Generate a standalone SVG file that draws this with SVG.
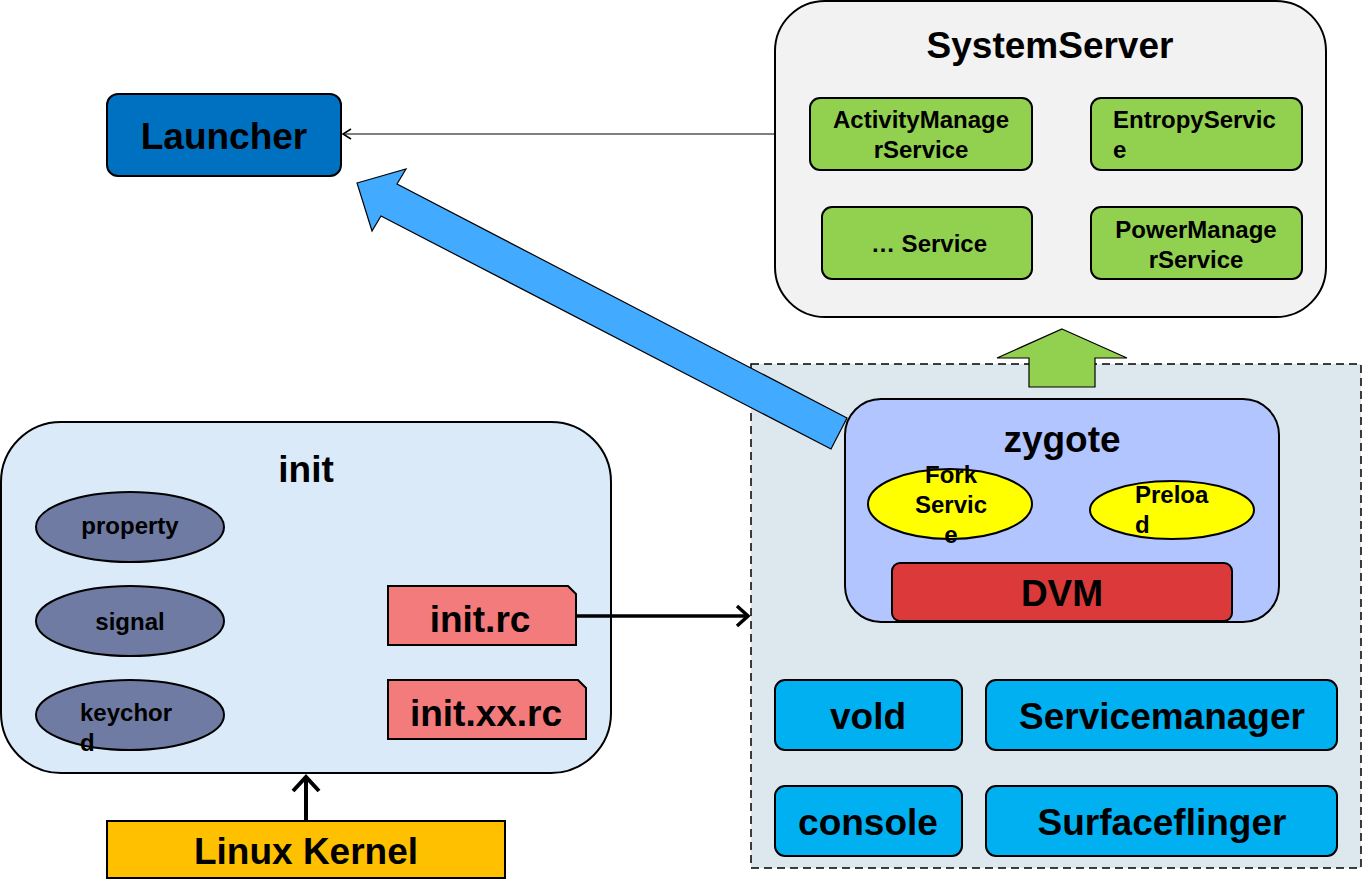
<svg xmlns="http://www.w3.org/2000/svg" width="1362" height="896" viewBox="0 0 1362 896">
<defs>
<style>
text{font-family:"Liberation Sans",Arial,sans-serif;font-weight:bold;fill:#000}
.big{font-size:37px;text-anchor:middle}
.sm{font-size:24px;text-anchor:middle}
.sml{font-size:24px;text-anchor:start}
.box{stroke:#000;stroke-width:2}
</style>
<marker id="open" markerWidth="12" markerHeight="12" refX="10" refY="6" orient="auto" markerUnits="userSpaceOnUse">
<path d="M2,1 L10,6 L2,11" fill="none" stroke="#000" stroke-width="1.5"/>
</marker>
<marker id="chev" markerWidth="18" markerHeight="24" refX="14" refY="12" orient="auto" markerUnits="userSpaceOnUse">
<path d="M3,2 L14,12 L3,22" fill="none" stroke="#000" stroke-width="3.5"/>
</marker>
<marker id="chev2" markerWidth="24" markerHeight="32" refX="18" refY="16" orient="auto" markerUnits="userSpaceOnUse">
<path d="M4,3 L18,16 L4,29" fill="none" stroke="#000" stroke-width="4"/>
</marker>
</defs>
<rect width="1362" height="896" fill="#fff"/>

<g id="zygote-container">
<rect x="751" y="364" width="610" height="504" fill="#DDE8EE" stroke="#000" stroke-width="1.5" stroke-dasharray="8,5"/>
</g>

<g id="launcher">
<rect class="box" x="107" y="94" width="234" height="82" rx="11" fill="#0070C0"/>
<text class="big" x="224" y="149">Launcher</text>
</g>

<g id="systemserver">
<rect class="box" x="775" y="1" width="551" height="316" rx="50" fill="#F2F2F2"/>
<text class="big" x="1050" y="58">SystemServer</text>
<g id="ams"><rect class="box" x="810" y="98" width="222" height="72" rx="10" fill="#92D050"/>
<text class="sm" x="921" y="128">ActivityManage</text><text class="sm" x="921" y="158">rService</text></g>
<g id="entropy"><rect class="box" x="1091" y="98" width="211" height="72" rx="10" fill="#92D050"/>
<text class="sml" x="1113" y="128">EntropyServic</text><text class="sml" x="1113" y="158">e</text></g>
<g id="etc"><rect class="box" x="822" y="207" width="210" height="72" rx="10" fill="#92D050"/>
<text class="sm" x="929" y="252">… Service</text></g>
<g id="pms"><rect class="box" x="1091" y="207" width="211" height="72" rx="10" fill="#92D050"/>
<text class="sm" x="1196" y="238">PowerManage</text><text class="sm" x="1196" y="268">rService</text></g>
</g>

<g id="zygote">
<rect class="box" x="845" y="399" width="434" height="223" rx="36" fill="#B2C5FE"/>
<text class="big" x="1062" y="452">zygote</text>
<g id="fork"><ellipse class="box" cx="950" cy="504" rx="82" ry="35" fill="#FFFF00"/>
<text class="sm" x="951" y="483">Fork</text><text class="sm" x="951" y="513">Servic</text><text class="sm" x="951" y="543">e</text></g>
<g id="preload"><ellipse class="box" cx="1172" cy="510" rx="82" ry="29" fill="#FFFF00"/>
<text class="sml" x="1135" y="503">Preloa</text><text class="sml" x="1135" y="533">d</text></g>
<g id="dvm"><rect class="box" x="892" y="563" width="340" height="58" rx="8" fill="#DC3A3A"/>
<text class="big" x="1062" y="606">DVM</text></g>
</g>

<g id="vold"><rect class="box" x="775" y="680" width="187" height="70" rx="10" fill="#00B0F0"/><text class="big" x="868" y="729">vold</text></g>
<g id="servicemanager"><rect class="box" x="986" y="680" width="351" height="70" rx="10" fill="#00B0F0"/><text class="big" x="1162" y="729">Servicemanager</text></g>
<g id="console"><rect class="box" x="775" y="786" width="187" height="70" rx="10" fill="#00B0F0"/><text class="big" x="868" y="835">console</text></g>
<g id="surfaceflinger"><rect class="box" x="986" y="786" width="351" height="70" rx="10" fill="#00B0F0"/><text class="big" x="1162" y="835">Surfaceflinger</text></g>

<g id="init">
<rect class="box" x="1" y="422" width="610" height="351" rx="60" fill="#DAEAF8"/>
<text class="big" x="306" y="482">init</text>
<g id="property"><ellipse class="box" cx="130" cy="527" rx="94" ry="35" fill="#6F7BA2"/><text class="sm" x="130" y="534">property</text></g>
<g id="signal"><ellipse class="box" cx="130" cy="621" rx="94" ry="35" fill="#6F7BA2"/><text class="sm" x="130" y="630">signal</text></g>
<g id="keychord"><ellipse class="box" cx="130" cy="715" rx="94" ry="35" fill="#6F7BA2"/><text class="sml" x="80" y="721">keychor</text><text class="sml" x="80" y="751">d</text></g>
<g id="initrc"><path class="box" d="M388,586 H568 L576,594 V645 H388 Z" fill="#F37B7B"/><text class="big" x="480" y="632">init.rc</text></g>
<g id="initxxrc"><path class="box" d="M388,680 H578 L586,688 V739 H388 Z" fill="#F37B7B"/><text class="big" x="486" y="726">init.xx.rc</text></g>
</g>

<g id="kernel">
<rect class="box" x="107" y="821" width="398" height="57" fill="#FFC000"/>
<text class="big" x="306" y="864">Linux Kernel</text>
</g>

<g id="connectors">
<line x1="775" y1="134" x2="343" y2="134" stroke="#000" stroke-width="1.2" marker-end="url(#open)"/>
<line x1="577" y1="616" x2="748" y2="616" stroke="#000" stroke-width="3.5" marker-end="url(#chev)"/>
<line x1="306" y1="821" x2="306" y2="777" stroke="#000" stroke-width="4" marker-end="url(#chev2)"/>
<polygon points="357,183 406,169 397,184 847,418 831,449 381,216 372,231" fill="#42AAFF" stroke="#000" stroke-width="1.2" stroke-linejoin="miter"/>
<polygon points="1062,329 1127,358 1095,358 1095,387 1029,387 1029,358 997,358" fill="#92D050" stroke="#000" stroke-width="1.2"/>
</g>
</svg>
